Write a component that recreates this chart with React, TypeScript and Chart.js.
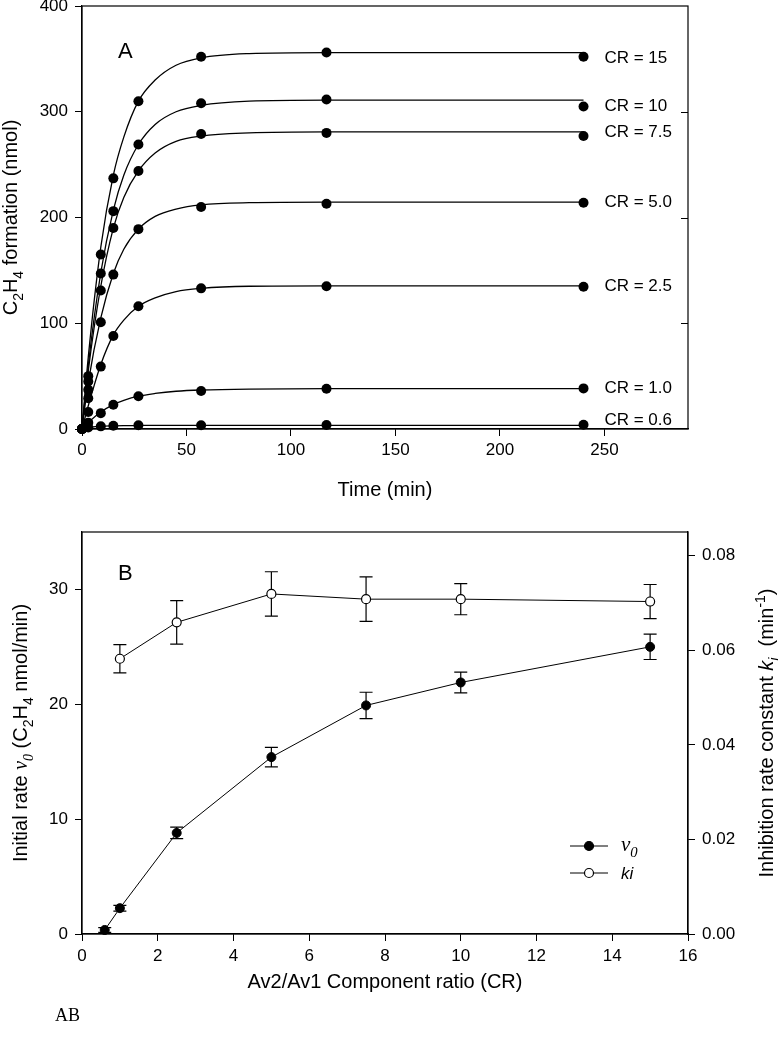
import React, { useEffect, useRef } from 'react';
import { Chart, registerables } from 'chart.js';

Chart.register(...registerables);

const SANS = '"Liberation Sans", Arial, Helvetica, sans-serif';
const SERIF = '"Liberation Serif", "Times New Roman", serif';

// ---------- Panel A: C2H4 formation vs time ----------
const sampleTimes = [0, 3, 9, 15, 27, 57, 117, 240];
const cr15Points = [0, 50, 165, 237, 310, 352, 356, 352];
const cr10Points = [0, 45, 147, 206, 269, 308, 311.5, 305];
const cr75Points = [0, 37, 131, 190, 244, 279, 280, 277];
const cr50Points = [0, 29, 101, 146, 189, 210, 213, 214];
const cr25Points = [0, 16, 59, 88, 116, 133, 135, 134.5];
const cr1Points = [0, 6, 15, 23, 31, 36, 38, 38.4];
const cr06Points = [0, 1.5, 2.5, 3, 3.5, 3.5, 3.8, 4];

// fitted curves at these times
const fitTimes = [0, 3, 9, 15, 20, 27, 35, 45, 57, 80, 117, 240];
const cr15Fit = [0, 68, 172, 240, 276, 310, 330, 344, 351, 355, 356, 356];
const cr10Fit = [0, 60, 148, 207, 240, 269, 288, 300, 306, 310, 311, 311];
const cr75Fit = [0, 55, 135, 190, 219, 244, 261, 272, 277, 280, 281, 281];
const cr50Fit = [0, 44, 105, 147, 170, 189, 201, 208, 212, 214, 214.5, 214.5];
const cr25Fit = [0, 22, 61, 89, 103, 116, 124, 130, 133, 135, 135.4, 135.4];
const cr1Fit = [0, 6, 16, 23, 27, 31, 33.6, 35.7, 36.9, 37.8, 38.1, 38.1];
const cr06Fit = [0, 1.5, 2.6, 3.0, 3.2, 3.3, 3.4, 3.4, 3.4, 3.4, 3.4, 3.4];

const crLabels = ['CR = 15', 'CR = 10', 'CR = 7.5', 'CR = 5.0', 'CR = 2.5', 'CR = 1.0', 'CR = 0.6'];
const crLabelY = [351, 305, 281, 214, 135, 38.5, 8];
const crLabelTime = 250;
const aRightTicks = [100, 200, 300];

// ---------- Panel B: initial rate and inhibition constant vs CR ----------
const v0Ratio = [0.6, 1.0, 2.5, 5, 7.5, 10, 15];
const v0Values = [0.35, 2.25, 8.8, 15.4, 19.9, 21.9, 25.0];
const v0Errors = [0.2, 0.25, 0.5, 0.85, 1.15, 0.9, 1.1];
const kiRatio = [1.0, 2.5, 5, 7.5, 10, 15];
const kiValues = [0.0582, 0.0659, 0.0719, 0.0708, 0.0708, 0.0703];
const kiErrors = [0.003, 0.0046, 0.0047, 0.0047, 0.0033, 0.0036];

type Seg = { t: string; it?: boolean; serif?: boolean; pos?: 'sub' | 'sup' };

function segFont(s: Seg, size: number) {
  const fs = s.pos ? size * 0.7 : size;
  return `${s.it ? 'italic ' : ''}${fs}px ${s.serif ? SERIF : SANS}`;
}

function drawRich(ctx: CanvasRenderingContext2D, segs: Seg[], x: number, y: number, size: number, angle: number, align: 'center' | 'left') {
  ctx.save();
  ctx.translate(x, y);
  ctx.rotate(angle);
  ctx.textBaseline = 'alphabetic';
  ctx.textAlign = 'left';
  ctx.fillStyle = '#000';
  let total = 0;
  const widths = segs.map((s) => {
    ctx.font = segFont(s, size);
    const w = ctx.measureText(s.t).width;
    total += w;
    return w;
  });
  let cx = align === 'center' ? -total / 2 : 0;
  segs.forEach((s, i) => {
    ctx.font = segFont(s, size);
    const dy = s.pos === 'sub' ? size * 0.3 : s.pos === 'sup' ? -size * 0.42 : 0;
    ctx.fillText(s.t, cx, dy);
    cx += widths[i];
  });
  ctx.restore();
}

const TICK_FONT = { family: SANS, size: 17 };
const TITLE_SIZE = 20;

function fixedAxis(size: number, dim: 'width' | 'height') {
  return (scale: any) => {
    scale[dim] = size;
    scale.paddingLeft = 0;
    scale.paddingRight = 0;
    scale.paddingTop = 0;
    scale.paddingBottom = 0;
  };
}

function axisStyle() {
  return {
    grid: { display: true, drawOnChartArea: false, drawTicks: true, tickLength: 7, color: '#000', lineWidth: 1 },
    border: { display: true, color: '#000', width: 1.2 },
  };
}

const panelAPlugin = {
  id: 'panelA',
  afterDraw(chart: any) {
    const { ctx, chartArea: a, scales } = chart;
    ctx.save();
    ctx.strokeStyle = '#000';
    ctx.lineWidth = 1.2;
    ctx.strokeRect(a.left, a.top, a.right - a.left, a.bottom - a.top);
    ctx.lineWidth = 1;
    aRightTicks.forEach((v) => {
      const y = Math.round(scales.y.getPixelForValue(v)) + 0.5;
      ctx.beginPath();
      ctx.moveTo(a.right, y);
      ctx.lineTo(a.right - 7, y);
      ctx.stroke();
    });
    ctx.fillStyle = '#000';
    ctx.textBaseline = 'alphabetic';
    ctx.textAlign = 'left';
    ctx.font = `22px ${SANS}`;
    ctx.fillText('A', 118, 58);
    ctx.font = `17px ${SANS}`;
    ctx.textBaseline = 'middle';
    const lx = scales.x.getPixelForValue(crLabelTime);
    crLabels.forEach((lab, i) => {
      ctx.fillText(lab, lx, scales.y.getPixelForValue(crLabelY[i]));
    });
    ctx.restore();
    const cxm = (a.left + a.right) / 2;
    const cym = (a.top + a.bottom) / 2;
    drawRich(ctx, [{ t: 'Time (min)' }], cxm, 496, TITLE_SIZE, 0, 'center');
    drawRich(
      ctx,
      [{ t: 'C' }, { t: '2', pos: 'sub' }, { t: 'H' }, { t: '4', pos: 'sub' }, { t: ' formation (nmol)' }],
      17,
      cym,
      TITLE_SIZE,
      -Math.PI / 2,
      'center'
    );
  },
};

const errorBarPlugin = {
  id: 'errorBars',
  beforeDatasetsDraw(chart: any) {
    const { ctx } = chart;
    ctx.save();
    ctx.strokeStyle = '#000';
    ctx.lineWidth = 1.2;
    chart.data.datasets.forEach((ds: any, i: number) => {
      if (!ds.errors) return;
      const meta = chart.getDatasetMeta(i);
      const ys = chart.scales[ds.yAxisID];
      meta.data.forEach((el: any, j: number) => {
        const v = ds.data[j].y;
        const e = ds.errors[j];
        const yt = ys.getPixelForValue(v + e);
        const yb = ys.getPixelForValue(v - e);
        const x = el.x;
        ctx.beginPath();
        ctx.moveTo(x, yt);
        ctx.lineTo(x, yb);
        ctx.moveTo(x - 6.5, yt);
        ctx.lineTo(x + 6.5, yt);
        ctx.moveTo(x - 6.5, yb);
        ctx.lineTo(x + 6.5, yb);
        ctx.stroke();
      });
    });
    ctx.restore();
  },
};

const panelBPlugin = {
  id: 'panelB',
  afterDraw(chart: any) {
    const { ctx, chartArea: a } = chart;
    ctx.save();
    ctx.strokeStyle = '#000';
    ctx.lineWidth = 1.2;
    ctx.strokeRect(a.left, a.top, a.right - a.left, a.bottom - a.top);
    ctx.fillStyle = '#000';
    ctx.textAlign = 'left';
    ctx.textBaseline = 'alphabetic';
    ctx.font = `22px ${SANS}`;
    ctx.fillText('B', 118, 80);
    // legend
    const rows = [346, 373];
    ctx.lineWidth = 1;
    rows.forEach((y, i) => {
      ctx.beginPath();
      ctx.moveTo(570, y);
      ctx.lineTo(608, y);
      ctx.stroke();
      ctx.beginPath();
      ctx.arc(589, y, 4.5, 0, Math.PI * 2);
      ctx.fillStyle = i === 0 ? '#000' : '#fff';
      ctx.fill();
      ctx.lineWidth = 1.2;
      ctx.stroke();
      ctx.lineWidth = 1;
    });
    ctx.restore();
    drawRich(ctx, [{ t: 'ν', it: true, serif: true }, { t: '0', it: true, serif: true, pos: 'sub' }], 621, rows[0] + 5, 21, 0, 'left');
    drawRich(ctx, [{ t: 'ki', it: true }], 621, rows[1] + 6, 17, 0, 'left');
    const cxm = (a.left + a.right) / 2;
    const cym = (a.top + a.bottom) / 2;
    drawRich(ctx, [{ t: 'Av2/Av1 Component ratio (CR)' }], cxm, 488, TITLE_SIZE, 0, 'center');
    drawRich(
      ctx,
      [
        { t: 'Initial rate ' },
        { t: 'ν', it: true, serif: true },
        { t: '0', it: true, serif: true, pos: 'sub' },
        { t: ' (C' },
        { t: '2', pos: 'sub' },
        { t: 'H' },
        { t: '4', pos: 'sub' },
        { t: ' nmol/min)' },
      ],
      27,
      cym,
      TITLE_SIZE,
      -Math.PI / 2,
      'center'
    );
    drawRich(
      ctx,
      [
        { t: 'Inhibition rate constant ' },
        { t: 'k', it: true },
        { t: 'i', it: true, pos: 'sub' },
        { t: '  (min' },
        { t: '-1', pos: 'sup' },
        { t: ')' },
      ],
      773,
      cym,
      TITLE_SIZE,
      -Math.PI / 2,
      'center'
    );
  },
};

function configA(): any {
  const pts = [cr15Points, cr10Points, cr75Points, cr50Points, cr25Points, cr1Points, cr06Points];
  const fits = [cr15Fit, cr10Fit, cr75Fit, cr50Fit, cr25Fit, cr1Fit, cr06Fit];
  const datasets: any[] = [];
  fits.forEach((f) =>
    datasets.push({
      data: fitTimes.map((t, i) => ({ x: t, y: f[i] })),
      borderColor: '#000',
      borderWidth: 1.3,
      pointRadius: 0,
      cubicInterpolationMode: 'monotone',
      fill: false,
      clip: false,
    })
  );
  pts.forEach((p) =>
    datasets.push({
      data: sampleTimes.map((t, i) => ({ x: t, y: p[i] })),
      showLine: false,
      pointRadius: 5,
      pointBackgroundColor: '#000',
      pointBorderColor: '#000',
      pointBorderWidth: 0,
      clip: false,
    })
  );
  return {
    type: 'line',
    data: { datasets },
    options: {
      responsive: false,
      animation: false,
      layout: { padding: { left: 0, right: 90, top: 6, bottom: 0 } },
      plugins: { legend: { display: false }, tooltip: { enabled: false } },
      scales: {
        x: {
          type: 'linear',
          min: 0,
          max: 290,
          ticks: { stepSize: 50, includeBounds: false, color: '#000', font: TICK_FONT, padding: 4, maxRotation: 0 },
          ...axisStyle(),
          afterFit: fixedAxis(71, 'height'),
        },
        y: {
          type: 'linear',
          min: 0,
          max: 400,
          ticks: { stepSize: 100, includeBounds: false, color: '#000', font: TICK_FONT, padding: 7 },
          ...axisStyle(),
          afterFit: fixedAxis(82, 'width'),
        },
      },
    },
    plugins: [panelAPlugin],
  };
}

function configB(): any {
  return {
    type: 'line',
    data: {
      datasets: [
        {
          label: 'v0',
          data: v0Ratio.map((x, i) => ({ x, y: v0Values[i] })),
          errors: v0Errors,
          yAxisID: 'y',
          borderColor: '#000',
          borderWidth: 1,
          pointRadius: 4.5,
          pointBackgroundColor: '#000',
          pointBorderColor: '#000',
          pointBorderWidth: 1,
          tension: 0,
          clip: false,
        },
        {
          label: 'ki',
          data: kiRatio.map((x, i) => ({ x, y: kiValues[i] })),
          errors: kiErrors,
          yAxisID: 'y1',
          borderColor: '#000',
          borderWidth: 1,
          pointRadius: 4.5,
          pointBackgroundColor: '#fff',
          pointBorderColor: '#000',
          pointBorderWidth: 1.2,
          tension: 0,
          clip: false,
        },
      ],
    },
    options: {
      responsive: false,
      animation: false,
      layout: { padding: { left: 0, right: 0, top: 32, bottom: 0 } },
      plugins: { legend: { display: false }, tooltip: { enabled: false } },
      scales: {
        x: {
          type: 'linear',
          min: 0,
          max: 16,
          ticks: { stepSize: 2, includeBounds: false, color: '#000', font: TICK_FONT, padding: 5, maxRotation: 0 },
          ...axisStyle(),
          afterFit: fixedAxis(116, 'height'),
        },
        y: {
          type: 'linear',
          position: 'left',
          min: 0,
          max: 35,
          ticks: { stepSize: 10, includeBounds: false, color: '#000', font: TICK_FONT, padding: 7 },
          ...axisStyle(),
          afterFit: fixedAxis(82, 'width'),
        },
        y1: {
          type: 'linear',
          position: 'right',
          min: 0,
          max: 0.085,
          ticks: {
            stepSize: 0.02,
            includeBounds: false,
            color: '#000',
            font: TICK_FONT,
            padding: 7,
            callback: (v: number) => v.toFixed(2),
          },
          ...axisStyle(),
          afterFit: fixedAxis(90, 'width'),
        },
      },
    },
    plugins: [errorBarPlugin, panelBPlugin],
  };
}

export default function App() {
  const refA = useRef<HTMLCanvasElement>(null);
  const refB = useRef<HTMLCanvasElement>(null);
  useEffect(() => {
    const a = new Chart(refA.current as HTMLCanvasElement, configA());
    const b = new Chart(refB.current as HTMLCanvasElement, configB());
    return () => {
      a.destroy();
      b.destroy();
    };
  }, []);
  return (
    <div style={{ position: 'absolute', left: 0, top: 0, width: 778, height: 1050, background: '#fff' }}>
      <canvas
        ref={refA}
        width={778}
        height={500}
        style={{ position: 'absolute', left: 0, top: 0, width: 778, height: 500, display: 'block' }}
      />
      <canvas
        ref={refB}
        width={778}
        height={550}
        style={{ position: 'absolute', left: 0, top: 500, width: 778, height: 550, display: 'block' }}
      />
      <div
        style={{
          position: 'absolute',
          left: 55,
          top: 1006,
          fontFamily: SERIF,
          fontSize: 18,
          lineHeight: '19px',
          color: '#000',
        }}
      >
        AB
      </div>
    </div>
  );
}
